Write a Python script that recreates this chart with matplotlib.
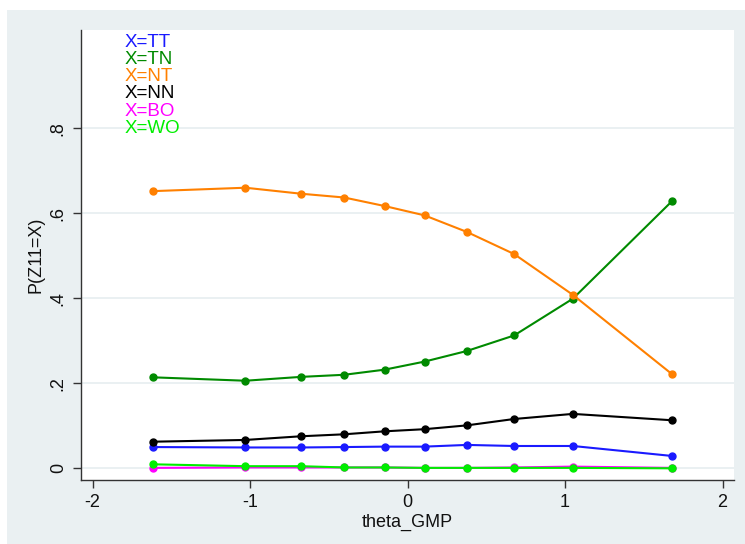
import matplotlib
matplotlib.use("Agg")
import matplotlib.pyplot as plt
from matplotlib.patches import Rectangle

plt.rcParams['font.family'] = ['Liberation Sans', 'DejaVu Sans']
plt.rcParams['axes.unicode_minus'] = False

theta = [-1.615, -1.029, -0.679, -0.402, -0.146, 0.108, 0.377, 0.677, 1.050, 1.681]
p_TT = [0.050, 0.049, 0.049, 0.050, 0.051, 0.051, 0.055, 0.0525, 0.0525, 0.029]
p_TN = [0.214, 0.206, 0.215, 0.220, 0.232, 0.251, 0.276, 0.3125, 0.399, 0.629]
p_NT = [0.652, 0.660, 0.646, 0.637, 0.617, 0.595, 0.556, 0.504, 0.408, 0.221]
p_NN = [0.0626, 0.0667, 0.0753, 0.080, 0.087, 0.092, 0.101, 0.116, 0.128, 0.113]
p_BO = [0.001, 0.002, 0.002, 0.002, 0.002, 0.001, 0.001, 0.002, 0.004, 0.001]
p_WO = [0.0094, 0.005, 0.005, 0.002, 0.002, 0.001, 0.001, 0.001, 0.001, 0.000]

labels = ["X=TT", "X=TN", "X=NT", "X=NN", "X=BO", "X=WO"]
colors = ["#1a1aff", "#008a00", "#ff8000", "#000000", "#ff00ff", "#00ee00"]
series = [p_TT, p_TN, p_NT, p_NN, p_BO, p_WO]

yticks = [0, 0.2, 0.4, 0.6, 0.8]
yticklabels = ["0", ".2", ".4", ".6", ".8"]
xticks = [-2, -1, 0, 1, 2]

W, H = 745, 544
fig = plt.figure(figsize=(W / 100, H / 100), dpi=100, facecolor="white")
bg = "#eaf0f2"
fig.patches.append(Rectangle((7 / W, 0), 1 - 7 / W, 1 - 10 / H, transform=fig.transFigure,
                             facecolor=bg, edgecolor="none", zorder=-10))

ax = fig.add_axes([80.7 / W, 1 - 480 / H, (734 - 80.7) / W, (480 - 30) / H])
ax.set_zorder(1)
ax.set_facecolor("white")

for y in yticks:
    ax.axhline(y, color="#e6eef0", lw=1.2, zorder=1)

for vals, c in zip(series, colors):
    ax.plot(theta, vals, color=c, lw=1.5, marker="o", ms=5, zorder=3)

ax.set_xlim(-2.075, 2.073)
ax.set_ylim(-0.0275, 1.031)
ax.set_xticks(xticks)
ax.set_xticklabels([str(v) for v in xticks])
ax.set_yticks(yticks)
ax.set_yticklabels(yticklabels, rotation=90, va="center")
for s in ["top", "right"]:
    ax.spines[s].set_visible(False)
for s in ["left", "bottom"]:
    ax.spines[s].set_color("#333333")
    ax.spines[s].set_linewidth(1.0)
ax.tick_params(axis="both", direction="out", length=6, width=1.0, color="#333333",
               labelsize=13, pad=4, labelcolor="#111111")
ax.set_xlabel("theta_GMP", fontsize=13, labelpad=2, color="#111111")
ax.set_ylabel("P(Z11=X)", fontsize=13, labelpad=4, color="#111111")

for i, (lab, c) in enumerate(zip(labels, colors)):
    fig.text(125 / W, 1 - (42.7 + 17.1 * i) / H, lab, color=c, fontsize=13.5,
             ha="left", va="center", zorder=5)

fig.savefig("out.png", dpi=100, facecolor="white")
